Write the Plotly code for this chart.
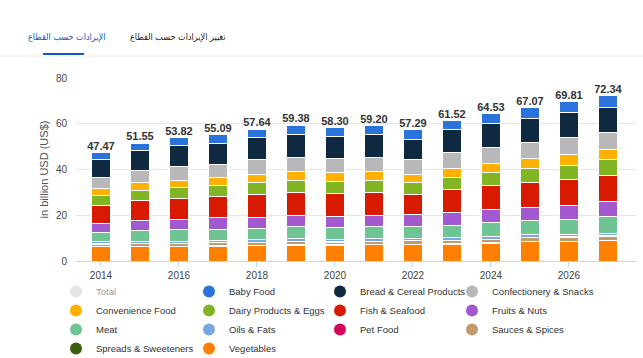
import plotly.graph_objects as go

years = [2014, 2015, 2016, 2017, 2018, 2019, 2020, 2021, 2022, 2023, 2024, 2025, 2026, 2027]
total = [47.47, 51.55, 53.82, 55.09, 57.64, 59.38, 58.30, 59.20, 57.29, 61.52, 64.53, 67.07, 69.81, 72.34]

baby_food = [3.0, 3.2, 3.3, 3.7, 3.7, 4.0, 3.7, 4.0, 4.1, 3.9, 4.3, 4.6, 5.0, 5.1]
bread_cereal = [7.9, 8.6, 9.2, 9.3, 9.7, 10.3, 9.8, 9.9, 8.8, 10.1, 10.4, 10.5, 11.0, 11.0]
confectionery = [5.0, 5.4, 6.0, 5.8, 6.3, 5.9, 6.3, 6.3, 6.6, 6.9, 7.0, 7.3, 7.4, 7.6]
convenience = [3.0, 3.4, 3.3, 3.4, 3.6, 3.8, 3.6, 3.8, 3.3, 3.9, 4.2, 4.4, 4.5, 4.3]
dairy_eggs = [4.4, 4.5, 4.7, 4.7, 5.2, 5.5, 5.3, 5.2, 5.4, 5.5, 5.7, 5.9, 6.3, 7.0]
fish_seafood = [7.7, 8.7, 9.1, 9.3, 9.9, 10.2, 10.1, 10.3, 8.9, 10.1, 10.2, 10.8, 11.3, 11.4]
fruits_nuts = [3.9, 4.2, 4.5, 5.0, 4.8, 4.5, 4.8, 4.4, 5.0, 5.6, 5.9, 5.9, 6.2, 6.3]
meat = [4.2, 4.8, 5.0, 4.9, 5.2, 5.5, 5.3, 5.6, 5.3, 5.3, 6.1, 6.1, 6.4, 7.4]
oils_fats = [0.9, 0.9, 0.9, 1.0, 1.0, 1.0, 1.0, 1.0, 1.0, 1.1, 1.1, 1.2, 1.2, 1.2]
pet_food = [0.1, 0.1, 0.1, 0.1, 0.1, 0.1, 0.1, 0.1, 0.1, 0.1, 0.1, 0.1, 0.1, 0.1]
sauces_spices = [1.0, 1.2, 1.2, 1.3, 1.2, 1.5, 1.3, 1.4, 1.4, 1.5, 1.5, 1.6, 1.7, 1.8]
spreads = [0.2, 0.2, 0.2, 0.2, 0.2, 0.2, 0.2, 0.2, 0.2, 0.2, 0.2, 0.2, 0.2, 0.2]
vegetables = [6.2, 6.3, 6.3, 6.4, 6.7, 6.9, 6.8, 7.0, 7.2, 7.3, 7.8, 8.5, 8.5, 8.9]

x_ticks = [2014, 2016, 2018, 2020, 2022, 2024, 2026]
y_ticks = [0, 20, 40, 60, 80]

# legend order (as in the reference)
series = [
    ("Baby Food", baby_food, "#2a73db"),
    ("Bread & Cereal Products", bread_cereal, "#0f2940"),
    ("Confectionery & Snacks", confectionery, "#b8b8b8"),
    ("Convenience Food", convenience, "#ffb000"),
    ("Dairy Products & Eggs", dairy_eggs, "#82b523"),
    ("Fish & Seafood", fish_seafood, "#d81b00"),
    ("Fruits & Nuts", fruits_nuts, "#a259d0"),
    ("Meat", meat, "#6fc494"),
    ("Oils & Fats", oils_fats, "#79a7e0"),
    ("Pet Food", pet_food, "#d5075c"),
    ("Sauces & Spices", sauces_spices, "#c49a6c"),
    ("Spreads & Sweeteners", spreads, "#3b5e10"),
    ("Vegetables", vegetables, "#ff7f00"),
]

FONT = "Liberation Sans, Arial, sans-serif"
AR_FONT = "DejaVu Sans Condensed, DejaVu Sans, sans-serif"
fig = go.Figure()

# stacked bars: bottom series first
for name, vals, col in reversed(series):
    fig.add_trace(go.Bar(
        x=years, y=vals, name=name, legendgroup=name, showlegend=False,
        marker=dict(color=col, line=dict(color="white", width=1)),
    ))

# total labels
fig.add_trace(go.Scatter(
    x=years, y=total, mode="text", text=[f"{v:.2f}" for v in total],
    textposition="top center", showlegend=False, hoverinfo="skip",
    textfont=dict(family=FONT, size=11, color="#333333", weight="bold"),
))

# legend entries (circle markers), laid out in 4 columns like the reference
legend_names = ["legend", "legend2", "legend3", "legend4"]
entries = [("Total", None, "#cccccc")] + series
for i, (name, vals, col) in enumerate(entries):
    fig.add_trace(go.Scatter(
        x=[None], y=[None], mode="markers", name=name,
        legendgroup=name, legend=legend_names[i % 4],
        visible="legendonly" if vals is None else True,
        marker=dict(symbol="circle", size=10, color=col),
    ))

W, H = 643, 358
L, R, T, B = 76, 7, 78, 97
pw, ph = W - L - R, H - T - B


def px(x):
    return (x - L) / pw


def py(y):
    return (H - B - y) / ph


leg_common = dict(
    orientation="v", xanchor="left", y=py(277), yanchor="top",
    itemsizing="constant", font=dict(family=FONT, size=9.5, color="#333333"),
    tracegroupgap=0, traceorder="normal", itemwidth=30, bgcolor="rgba(0,0,0,0)",
)
col_x = [56, 189, 320, 452]

fig.update_layout(
    width=W, height=H,
    margin=dict(l=L, r=R, t=T, b=B, autoexpand=False),
    barmode="stack", bargap=0.51,
    paper_bgcolor="white", plot_bgcolor="white",
    font=dict(family=FONT, size=11, color="#333333"),
    legend=dict(x=px(col_x[0]), **leg_common),
    legend2=dict(x=px(col_x[1]), **leg_common),
    legend3=dict(x=px(col_x[2]), **leg_common),
    legend4=dict(x=px(col_x[3]), **leg_common),
    xaxis=dict(
        range=[2013.36, 2027.72], tickvals=x_ticks, ticks="outside", ticklen=5,
        tickcolor="#ccd6eb", showline=True, linecolor="#ccd6eb", showgrid=False,
        zeroline=False, tickfont=dict(size=10, color="#444444"),
    ),
    yaxis=dict(
        range=[0, 80], tickvals=y_ticks, showgrid=True, gridcolor="#e6e6e6",
        zeroline=False, showline=False, ticks="", ticklabelstandoff=8,
        tickfont=dict(size=10, color="#444444"),
        title=dict(text="in billion USD (US$)", font=dict(size=11, color="#555555"), standoff=5),
    ),
    showlegend=True,
)

# tab header
fig.add_annotation(text="الإيرادات حسب القطاع", xref="paper", yref="paper",
                   x=px(26), y=py(38), xanchor="left", yanchor="middle", showarrow=False,
                   font=dict(family=AR_FONT, size=9, color="#0a5cc2"))
fig.add_annotation(text="تغيير الإيرادات حسب القطاع", xref="paper", yref="paper",
                   x=px(128), y=py(38), xanchor="left", yanchor="middle", showarrow=False,
                   font=dict(family=AR_FONT, size=9, color="#222222"))
fig.add_shape(type="line", xref="paper", yref="paper", x0=px(0), x1=px(643), y0=py(56), y1=py(56),
              line=dict(color="#eeeeee", width=1))
fig.add_shape(type="line", xref="paper", yref="paper", x0=px(43), x1=px(84), y0=py(54), y1=py(54),
              line=dict(color="#0a5cc2", width=2))

fig.write_html("out.html", config={"displayModeBar": False},
               post_script="document.body.style.margin='0';")
